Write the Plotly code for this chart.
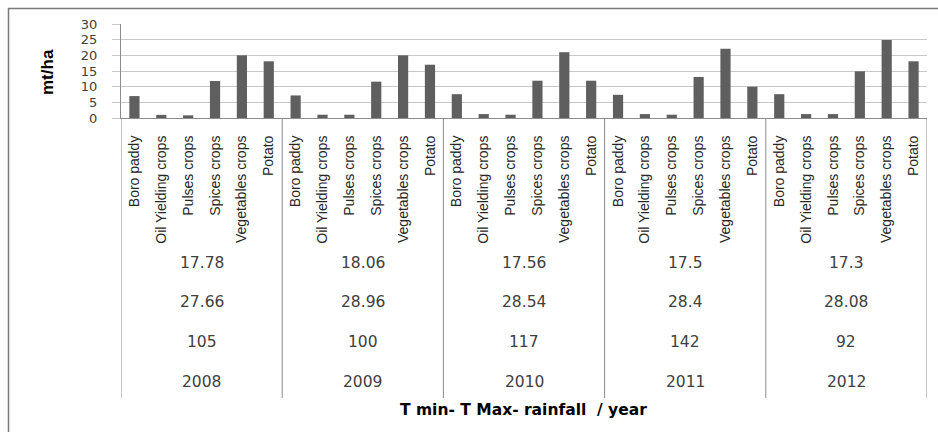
import plotly.graph_objects as go

# Crop yields (mt/ha) by year, with the climate summary rows shown under each year
years = ["2008", "2009", "2010", "2011", "2012"]
crops = ["Boro paddy", "Oil Yielding crops", "Pulses crops",
         "Spices crops", "Vegetables crops", "Potato"]
yield_2008 = [7.0, 1.0, 0.85, 11.8, 20.0, 18.1]
yield_2009 = [7.2, 1.05, 1.05, 11.6, 20.0, 17.0]
yield_2010 = [7.6, 1.25, 1.05, 11.9, 21.0, 11.9]
yield_2011 = [7.4, 1.25, 1.05, 13.1, 22.1, 10.0]
yield_2012 = [7.6, 1.25, 1.25, 14.9, 24.9, 18.1]
t_min = ["17.78", "18.06", "17.56", "17.5", "17.3"]
t_max = ["27.66", "28.96", "28.54", "28.4", "28.08"]
rainfall = ["105", "100", "117", "142", "92"]
y_ticks = [0, 5, 10, 15, 20, 25, 30]

yields = [yield_2008, yield_2009, yield_2010, yield_2011, yield_2012]

W, H = 938, 432
ML, MR, MT, MB = 121, 11, 24, 314
PW, PH = W - ML - MR, H - MT - MB


def px_x(p):
    """pixel column -> paper x"""
    return (p - ML) / PW


def px_y(p):
    """pixel row -> paper y"""
    return (H - MB - p) / PH


n = len(crops)
xs, vals, labels = [], [], []
for g, ys in enumerate(yields):
    for i, v in enumerate(ys):
        xs.append(g * n + i)
        vals.append(v)
        labels.append(crops[i])

fig = go.Figure()
fig.add_trace(go.Bar(x=xs, y=vals, width=0.38,
                     marker=dict(color="#5f5f5f", line=dict(width=0)),
                     hoverinfo="y"))

label_font = dict(family="Liberation Sans Narrow, Liberation Sans, sans-serif",
                  size=14, color="#262626")
num_font = dict(family="DejaVu Sans, Verdana, sans-serif", size=15.5, color="#404040")

shapes = []
annotations = []
# group separators running down through the table
for g in range(len(years) + 1):
    shapes.append(dict(type="line", xref="x", yref="paper",
                       x0=g * n - 0.5, x1=g * n - 0.5, y0=0, y1=px_y(398),
                       line=dict(color="#8c8c8c", width=1)))

rows = [(t_min, 263), (t_max, 302), (rainfall, 342), (years, 382)]
for values, row_px in rows:
    for g, txt in enumerate(values):
        annotations.append(dict(x=g * n + (n - 1) / 2, xref="x", y=px_y(row_px),
                                yref="paper", text=txt, showarrow=False,
                                font=num_font, xanchor="center", yanchor="middle"))

annotations.append(dict(x=px_x(523), xref="paper", y=px_y(410), yref="paper",
                        text="<b>T min- T Max- rainfall  / year</b>", showarrow=False,
                        font=dict(family="DejaVu Sans, Verdana, sans-serif", size=15.5,
                                  color="#000000"),
                        xanchor="center", yanchor="middle"))
annotations.append(dict(x=px_x(47), xref="paper", y=px_y(72), yref="paper",
                        text="<b>mt/ha</b>", textangle=-90, showarrow=False,
                        font=dict(family="Liberation Sans Narrow, Liberation Sans, sans-serif",
                                  size=17, color="#000000"),
                        xanchor="center", yanchor="middle"))

# chart frame
shapes.append(dict(type="rect", xref="paper", yref="paper",
                   x0=px_x(8.5), x1=px_x(945), y0=px_y(445), y1=px_y(8.5),
                   line=dict(color="#7a7a7a", width=1.5), layer="below"))

fig.update_layout(
    width=W, height=H,
    margin=dict(l=ML, r=MR, t=MT, b=MB),
    paper_bgcolor="white", plot_bgcolor="white",
    showlegend=False,
    shapes=shapes, annotations=annotations,
    xaxis=dict(range=[-0.5, len(xs) - 0.5], tickmode="array", tickvals=xs,
               ticktext=labels, tickangle=-90, tickfont=label_font,
               showgrid=False, zeroline=False, showline=True,
               linecolor="#8c8c8c", linewidth=1, ticks="",
               ticklabelstandoff=11, fixedrange=True),
    yaxis=dict(range=[0, 30], tickmode="array", tickvals=y_ticks,
               tickfont=dict(family="DejaVu Sans, Verdana, sans-serif", size=13,
                             color="#404040"),
               showgrid=True, gridcolor="#c8c8c8", gridwidth=1,
               zeroline=False, showline=True, linecolor="#8c8c8c", linewidth=1,
               ticks="outside", ticklen=8, tickcolor="#c8c8c8",
               ticklabelstandoff=12, fixedrange=True),
)

fig.write_html("out.html")
